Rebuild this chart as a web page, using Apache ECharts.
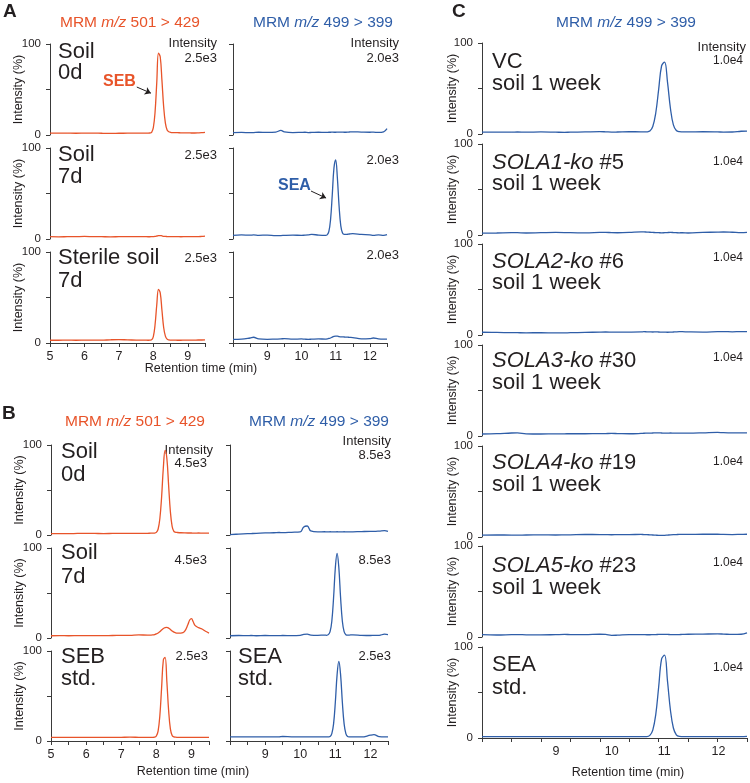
<!DOCTYPE html>
<html>
<head>
<meta charset="utf-8">
<script src="https://cdn.jsdelivr.net/npm/echarts@6/dist/echarts.min.js"></script>
<style>
  html, body { margin: 0; padding: 0; background: #fff; }
  #chart { width: 750px; height: 783px; }
</style>
</head>
<body>
<div id="chart"></div>
<script>
// retention times (min)
const timeLeft = [5.0, 5.25, 5.5, 5.75, 6.0, 6.25, 6.5, 6.75, 7.0, 7.25, 7.5, 7.75,
  7.85, 7.9, 7.95,
  8.0, 8.05, 8.1, 8.15, 8.2, 8.25, 8.3, 8.35, 8.4, 8.45, 8.5, 8.55, 8.6,
  8.7, 8.8, 8.9,
  8.95, 9.0, 9.05, 9.1,
  9.2, 9.3, 9.4, 9.5]
const timeRight = [8.0, 8.25, 8.5, 8.6, 8.75, 9.0, 9.25, 9.4, 9.5, 9.75,
  10.0, 10.1, 10.2, 10.3, 10.5,
  10.7, 10.75, 10.8, 10.85, 10.9, 10.95, 11.0, 11.05, 11.1, 11.15, 11.2, 11.25, 11.3, 11.35, 11.4,
  11.5, 11.75, 12.0, 12.1, 12.25, 12.4, 12.5]

// panel A, MRM 501 > 429 (SEB), intensity %
const aSoil0dSEB = [2, 2.1, 2, 1.9, 2, 2.1, 1.9, 1.8, 1.9, 2, 2.1, 2,
  2, 2.2, 3,
  8, 25, 58, 90, 86, 60, 31, 13, 5.5, 3.5, 3, 2.7, 2.6,
  2.5, 2.4, 2.3,
  2.3, 2.4, 2.3, 2.2,
  2.2, 2.3, 2.5, 3]
const aSoil7dSEB = [2.5, 2.4, 2.5, 2.6, 2.8, 2.6, 2.5, 2.4, 2.5, 2.6, 2.7, 2.6,
  2.5, 2.5, 2.6,
  2.7, 2.9, 3.3, 3.8, 3.8, 3.4, 3, 2.8, 2.7, 2.6, 2.6, 2.6, 2.7,
  2.6, 2.5, 2.6,
  2.7, 2.7, 2.6, 2.6,
  2.7, 2.6, 2.8, 3.2]
const aSterileSEB = [3, 3, 3.1, 3, 3.1, 3.2, 3.1, 3.5, 3.7, 3.4, 3.2, 3.1,
  3, 3.1, 3.5,
  7, 20, 42, 59, 55, 36, 17, 7.5, 4.2, 3.4, 3.2, 3.1, 3.1,
  3, 3, 3.1,
  3.1, 3.2, 3.2, 3.1,
  3.2, 3.3, 3.3, 3.4]

// panel A, MRM 499 > 399 (SEA)
const aSoil0dSEA = [2.5, 2.8, 2.6, 2.7, 3, 2.8, 3.2, 5, 3.5, 2.7,
  2.9, 3, 2.7, 2.8, 3,
  2.8, 2.9, 3, 3, 3.1, 3, 3, 3.1, 3.2, 3.2, 3.1, 3, 3, 3.1, 3.3,
  3.5, 3.2, 3, 3.1, 2.8, 3.5, 7]
const aSoil7dSEA = [4, 4.5, 4.2, 4.5, 4, 4.3, 3.8, 3.8, 4, 4.2,
  4, 4.2, 4.5, 5, 4.3,
  4, 4.5, 8, 21, 48, 78, 87, 67, 36, 14.5, 6.5, 5, 5, 5.2, 5.5,
  5.8, 5, 4.5, 4, 4.5, 4, 4.8]
const aSterileSEA = [4, 4.2, 5.5, 6.3, 4.5, 4, 4.3, 4.5, 4.8, 4.2,
  4.5, 4.2, 4, 4.2, 4.5,
  4.3, 4.5, 5, 5.5, 6.5, 7.3, 7.6, 7.5, 7, 6.8, 6.7, 6.6, 6.5, 6.4, 6.2,
  6, 4.5, 4.8, 5.5, 4.5, 4.2, 4.3]

// panel B, SEB
const bSoil0dSEB = [1.5, 1.6, 1.5, 1.7, 1.8, 1.7, 1.6, 1.7, 1.8, 1.7, 1.8, 1.9,
  2, 2, 2.1,
  2.9, 6.4, 18, 42, 75, 94, 85, 55, 26, 9.6, 4, 3, 2.8,
  2.5, 2.3, 2.2,
  2.2, 2.2, 2.1, 2.1,
  2.2, 2.1, 2, 2]
const bSoil7dSEB = [2.5, 2.6, 2.5, 2.6, 2.7, 2.7, 2.6, 2.8, 2.9, 3, 3.5, 3.2,
  3.3, 3.5, 3.8,
  4.5, 5.5, 7, 8.8, 10.5, 11.5, 11.8, 11, 9.5, 7.8, 6.5, 5.8, 5.5,
  5.5, 7, 15,
  20, 21.5, 18, 14,
  11.5, 10, 7.5, 5.5]
const bStdSEB = [4, 4, 4.1, 4, 4, 4.1, 4, 4, 4.1, 4.2, 4.1, 4,
  4, 4, 4.2,
  5.5, 11, 28, 59, 90, 93, 66, 34, 13.5, 6, 4.5, 4.2, 4.1,
  4, 4, 4,
  4, 4, 4, 4,
  4, 4, 4, 4]

// panel B, SEA
const bSoil0dSEA = [0.5, 1, 1.5, 1.6, 1.8, 2.3, 2.5, 2.8, 2.6, 3,
  3.5, 9, 10, 4.5, 3.5,
  3.6, 3.5, 3.5, 3.6, 3.5, 3.4, 3.5, 3.6, 3.5, 3.4, 3.5, 3.6, 3.5, 3.5, 3.4,
  3.5, 3.8, 4, 4, 4.3, 4.8, 4]
const bSoil7dSEA = [2.5, 2.8, 2.6, 2.8, 2.5, 2.8, 2.6, 2.7, 2.8, 2.6,
  3, 4, 4.2, 3.2, 3,
  3.2, 3, 3.7, 7, 18.6, 44.7, 78, 94, 78, 44.7, 18.6, 7, 3.7, 3.2, 3.3,
  3.5, 3, 2.8, 2.9, 3, 4.2, 3.8]
const bStdSEA = [4.5, 4.5, 4.6, 4.5, 4.5, 4.6, 4.5, 4.6, 5, 4.6,
  4.5, 4.6, 4.5, 4.5, 4.6,
  4.5, 4.5, 4.6, 5, 8.2, 19, 43, 73.5, 88.5, 73.5, 43, 19, 8.2, 5, 4.6,
  4.5, 4.5, 6.5, 7, 4.8, 4.5, 4.5]

// panel C, SEA
const cVC = [2, 2.1, 2, 2.2, 2, 2.3, 2, 1.8, 2, 2.3,
  2.6, 2.4, 2.1, 2.2, 2.5,
  2.4, 2.3, 2.4, 3.2, 8.2, 22.8, 49, 75, 79, 57, 28, 10, 3.8, 2.6, 2.4,
  2.3, 2.5, 2.3, 2.1, 2.2, 3, 3.2]
const cSola1 = [2, 2.2, 2.6, 2.5, 2.2, 2.5, 2.8, 2.7, 2.5, 2.4,
  2.8, 2.9, 2.6, 2.5, 2.8,
  3.5, 3.4, 3.2, 3, 2.8, 2.6, 2.5, 2.4, 2.5, 2.7, 2.8, 2.7, 2.5, 2.4, 2.5,
  2.2, 2.8, 3.2, 3.3, 3, 2.6, 2.8]
const cSola2 = [3, 2.8, 2.6, 2.5, 2.4, 2.5, 2.3, 2.4, 2.5, 2.8,
  3.2, 3.3, 3.2, 3.1, 3.2,
  3.4, 3.6, 3.5, 3.4, 3.3, 3.4, 3.3, 3.2, 3.1, 3, 3.1, 3.3, 3.5, 3.6, 3.6,
  3.4, 3.2, 3.6, 3.7, 3.5, 3.8, 3.6]
const cSola3 = [2.2, 2.5, 3.3, 3.4, 2.4, 2.2, 2.3, 2.4, 2.5, 2.5,
  2.6, 2.7, 2.8, 2.7, 2.5,
  2.8, 3, 3.1, 3.2, 3.3, 3.4, 3.4, 3.3, 3.2, 3.2, 3.3, 3.2, 3.1, 3.1, 3.2,
  3.2, 3.5, 4, 3.6, 3.4, 3.5, 3.4]
const cSola4 = [2, 2.2, 2.1, 2, 2.2, 2.3, 2.2, 2.3, 2.4, 2.8,
  2.7, 2.6, 2.5, 2.6, 2.7,
  2.8, 2.7, 2.6, 2.4, 2.2, 2, 1.8, 1.7, 1.8, 2.1, 2.4, 2.6, 2.7, 2.8, 2.8,
  2.9, 3, 3, 2.8, 2.7, 2.9, 3]
const cSola5 = [2.5, 2.2, 2.6, 2.7, 2.4, 2.3, 2.6, 2.8, 2.7, 2.6,
  3, 2.8, 1.8, 2, 2.6,
  2.7, 2.6, 2.5, 2.5, 2.6, 2.7, 2.8, 2.9, 2.9, 2.8, 2.7, 2.6, 2.6, 2.7, 2.8,
  3, 3.2, 3.4, 3.2, 2.8, 3, 4.5]
const cStd = [1.5, 1.5, 1.6, 1.5, 1.5, 1.5, 1.6, 1.5, 1.5, 1.5,
  1.5, 1.6, 1.5, 1.5, 1.5,
  1.5, 1.5, 1.5, 2.9, 8.7, 25.5, 56, 87, 91, 62.5, 30.5, 11, 3.5, 1.8, 1.6,
  1.5, 1.5, 1.5, 1.6, 1.5, 1.5, 1.7]

const yTicks = [0, 50, 100]

const FONT = '"Liberation Sans", Arial, Helvetica, sans-serif'
const ORANGE = '#e8542a'
const BLUE = '#2f5ea8'
const INK = '#231f20'
const AXIS = '#3a3a3a'

let grids = [], xAxes = [], yAxes = [], series = []

// the C panel's printed tick numbers sit a bit right of their ticks
const labelShift = { 9: 30, 10: 24, 11: 11, 12: 2 }
const lblStyle = { fontSize: 12.5, color: INK, fontFamily: FONT }
let shiftRich = {}
Object.keys(labelShift).forEach(k => {
  shiftRich['s' + k] = Object.assign({ padding: [0, 0, 0, labelShift[k]] }, lblStyle)
})

// one chromatogram panel = one grid
function addPanel(p) {
  let i = grids.length
  grids.push({ left: p.left, top: p.top, width: p.width, height: p.height })
  xAxes.push({
    type: 'value', gridIndex: i, min: p.xmin, max: p.xmax, interval: 0.5,
    show: !!p.bottom,
    axisLine: { show: true, lineStyle: { color: AXIS, width: 1 } },
    axisTick: { show: true, length: 4, lineStyle: { color: AXIS } },
    axisLabel: Object.assign({
      show: true, margin: 7,
      rich: p.shifted ? shiftRich : undefined,
      formatter: v => {
        if (!Number.isInteger(v) || v === p.hideMin) return ''
        return p.shifted ? '{s' + v + '|' + v + '}' : String(v)
      }
    }, lblStyle),
    splitLine: { show: false }
  })
  yAxes.push({
    type: 'value', gridIndex: i, min: yTicks[0], max: yTicks[2], interval: yTicks[1],
    name: p.yName ? 'Intensity (%)' : '',
    nameLocation: 'middle', nameGap: p.nameGap || 25, nameMoveOverlap: false,
    nameTextStyle: { fontSize: 12.5, color: INK, fontFamily: FONT },
    axisLine: { show: true, lineStyle: { color: AXIS, width: 1 } },
    axisTick: { show: true, length: 4, lineStyle: { color: AXIS } },
    axisLabel: {
      show: !!p.yName, fontSize: 11.5, color: INK, fontFamily: FONT, margin: 9,
      formatter: v => (v === 50 ? '' : String(v))
    },
    splitLine: { show: false }
  })
  let s = {
    type: 'line', xAxisIndex: i, yAxisIndex: i,
    data: p.t.map((t, k) => [t, p.v[k]]),
    smooth: 0.4, showSymbol: false, silent: true,
    lineStyle: { color: p.color, width: 1.3 },
    itemStyle: { color: p.color }
  }
  if (p.arrow) {
    s.markLine = {
      silent: true, symbol: ['none', 'arrow'], symbolSize: 6,
      label: { show: false },
      lineStyle: { color: INK, width: 1, type: 'solid' },
      data: [[{ coord: p.arrow[0] }, { coord: p.arrow[1] }]]
    }
  }
  series.push(s)
}

const aTops = [44, 148, 252]
const bTops = [445, 548, 651]
const cTops = [43, 144, 244, 345, 446, 546, 647]

;[aSoil0dSEB, aSoil7dSEB, aSterileSEB].forEach((v, k) => addPanel({
  left: 50, top: aTops[k], width: 155, height: 91, xmin: 5, xmax: 9.5,
  t: timeLeft, v: v, color: ORANGE, yName: true, bottom: k === 2,
  arrow: k === 0 ? [[7.52, 52.7], [7.93, 46]] : null
}))
;[aSoil0dSEA, aSoil7dSEA, aSterileSEA].forEach((v, k) => addPanel({
  left: 233, top: aTops[k], width: 154, height: 91, xmin: 8, xmax: 12.5, hideMin: 8,
  t: timeRight, v: v, color: BLUE, bottom: k === 2,
  arrow: k === 1 ? [[10.28, 52.7], [10.72, 45]] : null
}))
;[bSoil0dSEB, bSoil7dSEB, bStdSEB].forEach((v, k) => addPanel({
  left: 51, top: bTops[k], width: 158, height: 90, xmin: 5, xmax: 9.5,
  t: timeLeft, v: v, color: ORANGE, yName: true, bottom: k === 2
}))
;[bSoil0dSEA, bSoil7dSEA, bStdSEA].forEach((v, k) => addPanel({
  left: 230, top: bTops[k], width: 158, height: 90, xmin: 8, xmax: 12.5, hideMin: 8,
  t: timeRight, v: v, color: BLUE, bottom: k === 2
}))
;[cVC, cSola1, cSola2, cSola3, cSola4, cSola5, cStd].forEach((v, k) => addPanel({
  left: 482, top: cTops[k], width: 265, height: 91, xmin: 8, xmax: 12.5, hideMin: 8,
  t: timeRight, v: v, color: BLUE, yName: true, nameGap: 23, bottom: k === 6, shifted: true
}))

// text helpers
function txt(x, y, text, o) {
  o = o || {}
  return {
    type: 'text', x: x, y: y, silent: true,
    style: {
      text: text, fill: o.color || INK, fontSize: o.size || 13, fontFamily: FONT,
      fontWeight: o.weight || 'normal', fontStyle: o.italic ? 'italic' : 'normal',
      align: o.align || 'left', verticalAlign: 'middle',
      textAlign: o.align || 'left', textVerticalAlign: 'middle',
      rich: o.rich
    }
  }
}
function mrm(x, y, pair, color) {
  let base = { fontSize: 15.5, fontFamily: FONT, fill: color }
  return txt(x, y, '{n|MRM }{i|m/z}{n| ' + pair + '}', {
    align: 'center', color: color, size: 15.5,
    rich: { n: base, i: Object.assign({ fontStyle: 'italic' }, base) }
  })
}
function ko(x, y, name, num) {
  let base = { fontSize: 22, fontFamily: FONT, fill: INK }
  return txt(x, y, '{i|' + name + '}{n| ' + num + '}', {
    size: 22, rich: { n: base, i: Object.assign({ fontStyle: 'italic' }, base) }
  })
}
const big = (x, y, s) => txt(x, y, s, { size: 22 })
const small = (x, y, s, sz) => txt(x, y, s, { size: sz || 13, align: 'right' })

let graphics = [
  txt(3, 12, 'A', { size: 19, weight: 'bold' }),
  txt(2, 414, 'B', { size: 19, weight: 'bold' }),
  txt(452, 12, 'C', { size: 19, weight: 'bold' }),

  mrm(130, 23, '501 > 429', ORANGE),
  mrm(323, 23, '499 > 399', BLUE),
  mrm(135, 422, '501 > 429', ORANGE),
  mrm(319, 422, '499 > 399', BLUE),
  mrm(626, 23, '499 > 399', BLUE),

  // panel A
  big(58, 52, 'Soil'), big(58, 73, '0d'),
  big(58, 155, 'Soil'), big(58, 177, '7d'),
  big(58, 258, 'Sterile soil'), big(58, 281, '7d'),
  small(217, 43, 'Intensity'), small(217, 58, '2.5e3'),
  small(217, 155, '2.5e3'), small(217, 258, '2.5e3'),
  small(399, 43, 'Intensity'), small(399, 58, '2.0e3'),
  small(399, 160, '2.0e3'), small(399, 255, '2.0e3'),
  txt(103, 82, 'SEB', { size: 16, weight: 'bold', color: ORANGE }),
  txt(278, 186, 'SEA', { size: 16, weight: 'bold', color: BLUE }),
  txt(201, 369, 'Retention time (min)', { size: 12.5, align: 'center' }),

  // panel B
  big(61, 452, 'Soil'), big(61, 475, '0d'),
  big(61, 553, 'Soil'), big(61, 577, '7d'),
  big(61, 657, 'SEB'), big(61, 679, 'std.'),
  big(238, 657, 'SEA'), big(238, 679, 'std.'),
  small(213, 450, 'Intensity'), small(207, 463, '4.5e3'),
  small(207, 560, '4.5e3'), small(208, 656, '2.5e3'),
  small(391, 441, 'Intensity'), small(391, 455, '8.5e3'),
  small(391, 560, '8.5e3'), small(391, 656, '2.5e3'),
  txt(193, 772, 'Retention time (min)', { size: 12.5, align: 'center' }),

  // panel C
  big(492, 62, 'VC'), big(492, 84, 'soil 1 week'),
  ko(492, 163, 'SOLA1-ko', '#5'), big(492, 184, 'soil 1 week'),
  ko(492, 262, 'SOLA2-ko', '#6'), big(492, 283, 'soil 1 week'),
  ko(492, 361, 'SOLA3-ko', '#30'), big(492, 383, 'soil 1 week'),
  ko(492, 463, 'SOLA4-ko', '#19'), big(492, 485, 'soil 1 week'),
  ko(492, 566, 'SOLA5-ko', '#23'), big(492, 588, 'soil 1 week'),
  big(492, 665, 'SEA'), big(492, 688, 'std.'),
  small(746, 47, 'Intensity'), small(743, 61, '1.0e4', 12),
  small(743, 162, '1.0e4', 12), small(743, 258, '1.0e4', 12),
  small(743, 358, '1.0e4', 12), small(743, 462, '1.0e4', 12),
  small(743, 563, '1.0e4', 12), small(743, 668, '1.0e4', 12),
  txt(628, 773, 'Retention time (min)', { size: 12.5, align: 'center' })
]

let myChart = echarts.init(document.getElementById('chart'), null, { renderer: 'canvas' })
myChart.setOption({
  animation: false,
  backgroundColor: '#fff',
  textStyle: { fontFamily: FONT },
  grid: grids,
  xAxis: xAxes,
  yAxis: yAxes,
  series: series,
  graphic: graphics
})
</script>
</body>
</html>
